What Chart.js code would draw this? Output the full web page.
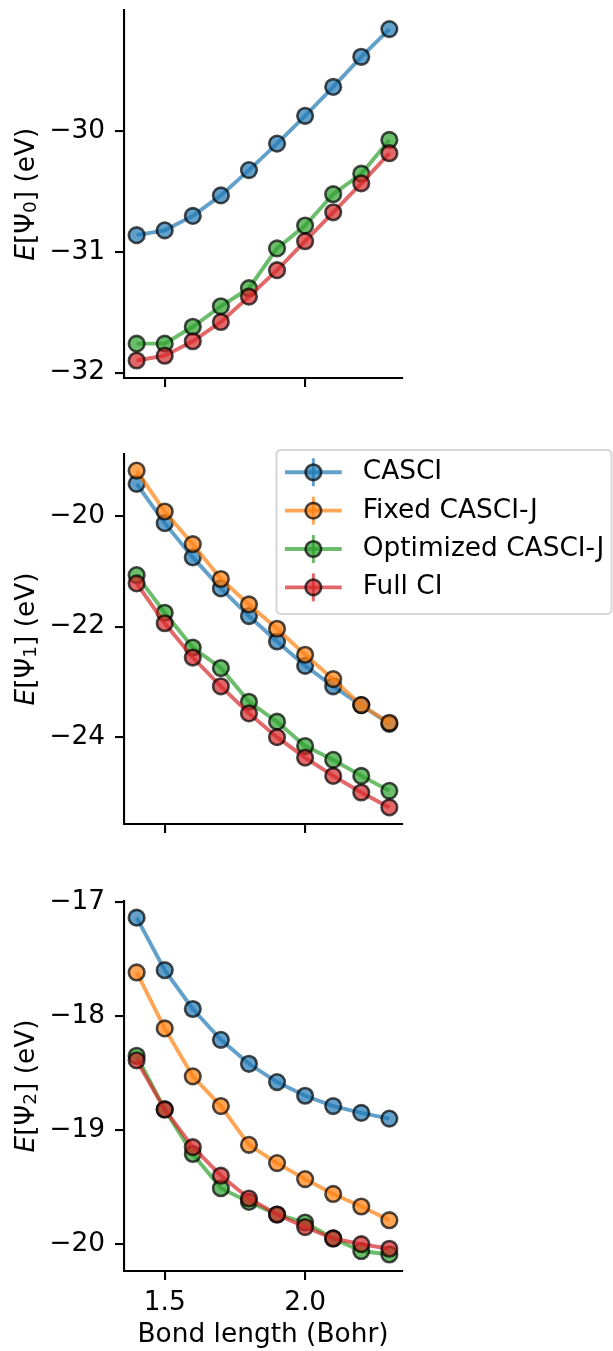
<!DOCTYPE html>
<html>
<head>
<meta charset="utf-8">
<script src="https://cdn.jsdelivr.net/npm/chart.js@4.4.1/dist/chart.umd.min.js"></script>
<style>
    body { margin: 0; background: #ffffff; width: 613px; height: 1351px; position: relative; overflow: hidden; }
    canvas { position: absolute; left: 0; }
</style>
</head>
<body>
<canvas id="psi0Chart" width="613" height="420" style="top:0px"></canvas>
<canvas id="psi1Chart" width="613" height="460" style="top:420px"></canvas>
<canvas id="psi2Chart" width="613" height="471" style="top:880px"></canvas>
<script>
/* ===================================
   DATA
   =================================== */

const bondLengths = [1.4, 1.5, 1.6, 1.7, 1.8, 1.9, 2.0, 2.1, 2.2, 2.3];
const seriesNames = ['CASCI', 'Fixed CASCI-J', 'Optimized CASCI-J', 'Full CI'];

// Ground state E[Psi_0] (no Fixed CASCI-J curve here)
const casci0     = [-30.86, -30.82, -30.70, -30.53, -30.32, -30.10, -29.87, -29.63, -29.38, -29.15];
const optimized0 = [-31.76, -31.76, -31.62, -31.45, -31.30, -30.97, -30.78, -30.52, -30.35, -30.07];
const fullCI0    = [-31.90, -31.86, -31.74, -31.58, -31.37, -31.15, -30.91, -30.67, -30.43, -30.18];

// First excited state E[Psi_1]
const casci1     = [-19.42, -20.13, -20.75, -21.31, -21.81, -22.27, -22.71, -23.08, -23.42, -23.76];
const fixed1     = [-19.18, -19.92, -20.51, -21.14, -21.60, -22.04, -22.51, -22.95, -23.42, -23.74];
const optimized1 = [-21.07, -21.75, -22.38, -22.75, -23.36, -23.72, -24.16, -24.41, -24.70, -24.97];
const fullCI1    = [-21.22, -21.94, -22.56, -23.08, -23.57, -24.00, -24.37, -24.70, -25.00, -25.27];

// Second excited state E[Psi_2]
const casci2     = [-17.14, -17.60, -17.94, -18.21, -18.42, -18.58, -18.70, -18.79, -18.85, -18.90];
const fixed2     = [-17.62, -18.11, -18.53, -18.79, -19.13, -19.29, -19.43, -19.56, -19.67, -19.79];
const optimized2 = [-18.35, -18.82, -19.21, -19.51, -19.63, -19.74, -19.81, -19.95, -20.06, -20.09];
const fullCI2    = [-18.39, -18.82, -19.15, -19.40, -19.60, -19.74, -19.85, -19.95, -20.00, -20.04];

// Tick labels
const xTicks  = [1.5, 2.0];
const yTicks0 = [-32, -31, -30];
const yTicks1 = [-24, -22, -20];
const yTicks2 = [-20, -19, -18, -17];

/* ===================================
   STYLE
   =================================== */

const FONT = 'DejaVu Sans';
const FONT_SIZE = 26.4;

// tab10 colours, drawn with alpha 0.7 like the original
const seriesRGB = {
    'CASCI': '31,119,180',
    'Fixed CASCI-J': '255,127,14',
    'Optimized CASCI-J': '44,160,44',
    'Full CI': '214,39,40'
};

function rgba(rgb, a) {
    return `rgba(${rgb},${a})`;
}

function makeDataset(name, values) {
    const rgb = seriesRGB[name];
    return {
        label: name,
        data: bondLengths.map((x, i) => ({ x: x, y: values[i] })),
        borderColor: rgba(rgb, 0.7),
        borderWidth: 3.9,
        backgroundColor: rgba(rgb, 0.7),
        pointRadius: 7.8,
        pointBorderWidth: 2.6,
        pointBackgroundColor: rgba(rgb, 0.7),
        pointBorderColor: 'rgba(0,0,0,0.7)',
        tension: 0,
        clip: false,
        // later series sit on top, as in matplotlib
        order: 10 - seriesNames.indexOf(name)
    };
}

function minusSign(v) {
    return String(v).replace('-', '\u2212');
}

/* ===================================
   Y LABEL  E[Psi_n] (eV)  with italic E and subscript
   =================================== */

const mathTitle = {
    id: 'mathTitle',
    afterDraw(chart, args, opts) {
        if (!opts.index && opts.index !== 0) return;
        const ctx = chart.ctx;
        const area = chart.chartArea;
        const normal = `${FONT_SIZE}px "${FONT}"`;
        const pieces = [
            { t: 'E', font: `italic ${FONT_SIZE}px "${FONT}"`, dy: 0 },
            { t: '[\u03A8', font: normal, dy: 0 },
            { t: String(opts.index), font: `${FONT_SIZE * 0.7}px "${FONT}"`, dy: 2 },
            { t: '] (eV)', font: normal, dy: 0 }
        ];
        ctx.save();
        let total = 0;
        pieces.forEach(p => { ctx.font = p.font; p.w = ctx.measureText(p.t).width; total += p.w; });
        ctx.translate(opts.baselineX, (area.top + area.bottom) / 2);
        ctx.rotate(-Math.PI / 2);
        ctx.fillStyle = '#000000';
        ctx.textBaseline = 'alphabetic';
        ctx.textAlign = 'left';
        let x = -total / 2;
        pieces.forEach(p => {
            ctx.font = p.font;
            ctx.fillText(p.t, x, p.dy);
            x += p.w;
        });
        ctx.restore();
    }
};

/* ===================================
   LEGEND (boxed, with errorbar handles)
   =================================== */

const boxLegend = {
    id: 'boxLegend',
    afterDraw(chart, args, opts) {
        if (!opts.show) return;
        const ctx = chart.ctx;
        const { x, y, w, h, r } = opts.box;
        ctx.save();

        ctx.beginPath();
        ctx.moveTo(x + r, y);
        ctx.arcTo(x + w, y, x + w, y + h, r);
        ctx.arcTo(x + w, y + h, x, y + h, r);
        ctx.arcTo(x, y + h, x, y, r);
        ctx.arcTo(x, y, x + w, y, r);
        ctx.closePath();
        ctx.fillStyle = 'rgba(255,255,255,0.8)';
        ctx.fill();
        ctx.lineWidth = 2;
        ctx.strokeStyle = 'rgba(204,204,204,0.8)';
        ctx.stroke();

        chart.data.datasets.forEach((ds, i) => {
            const rgb = seriesRGB[ds.label];
            const cy = opts.firstRow + i * opts.rowStep;
            const mx = (opts.handleX0 + opts.handleX1) / 2;

            ctx.strokeStyle = rgba(rgb, 0.7);
            ctx.lineWidth = 3.9;
            ctx.beginPath();
            ctx.moveTo(opts.handleX0, cy);
            ctx.lineTo(opts.handleX1, cy);
            ctx.stroke();

            ctx.lineWidth = 3;
            ctx.beginPath();
            ctx.moveTo(mx, cy - 14);
            ctx.lineTo(mx, cy + 14);
            ctx.stroke();

            ctx.beginPath();
            ctx.arc(mx, cy, 7.8, 0, Math.PI * 2);
            ctx.fillStyle = rgba(rgb, 0.7);
            ctx.fill();
            ctx.lineWidth = 2.6;
            ctx.strokeStyle = 'rgba(0,0,0,0.7)';
            ctx.stroke();

            ctx.fillStyle = '#000000';
            ctx.font = `${FONT_SIZE}px "${FONT}"`;
            ctx.textBaseline = 'middle';
            ctx.textAlign = 'left';
            ctx.fillText(ds.label, opts.textX, cy);
        });
        ctx.restore();
    }
};

/* ===================================
   PANEL BUILDER
   =================================== */

function buildPanel(canvasId, cfg) {
    const ctx = document.getElementById(canvasId);
    return new Chart(ctx, {
        type: 'line',
        data: { datasets: cfg.datasets },
        plugins: [boxLegend, mathTitle],
        options: {
            responsive: false,
            animation: false,
            devicePixelRatio: 1,
            events: [],
            layout: { padding: { left: 0, right: 211, top: cfg.padTop, bottom: 0 } },
            plugins: {
                legend: { display: false },
                tooltip: { enabled: false },
                boxLegend: cfg.legend || { show: false },
                mathTitle: { index: cfg.stateIndex, baselineX: 33.5 }
            },
            scales: {
                x: {
                    type: 'linear',
                    min: 1.355,
                    max: 2.345,
                    afterBuildTicks: (scale) => { scale.ticks = xTicks.map(v => ({ value: v })); },
                    afterFit: (scale) => {
                        scale.height = cfg.xHeight;
                        scale.paddingLeft = 0;
                        scale.paddingRight = 0;
                    },
                    grid: { drawOnChartArea: false, drawTicks: true, tickLength: 9, color: '#000000', lineWidth: 2.1 },
                    border: { display: true, color: '#000000', width: 2.1 },
                    ticks: {
                        display: cfg.showXLabels,
                        padding: 7,
                        color: '#000000',
                        font: { family: FONT, size: FONT_SIZE },
                        maxRotation: 0,
                        callback: (v) => Number(v).toFixed(1)
                    },
                    title: {
                        display: cfg.showXLabels,
                        text: 'Bond length (Bohr)',
                        color: '#000000',
                        font: { family: FONT, size: FONT_SIZE },
                        padding: { top: 0, bottom: 0 }
                    }
                },
                y: {
                    type: 'linear',
                    min: cfg.yMin,
                    max: cfg.yMax,
                    afterBuildTicks: (scale) => { scale.ticks = cfg.yTicks.map(v => ({ value: v })); },
                    afterFit: (scale) => {
                        scale.width = 124;
                        scale.paddingTop = 0;
                        scale.paddingBottom = 0;
                    },
                    grid: { drawOnChartArea: false, drawTicks: true, tickLength: 9, color: '#000000', lineWidth: 2.1 },
                    border: { display: true, color: '#000000', width: 2.1 },
                    ticks: {
                        padding: 10,
                        color: '#000000',
                        font: { family: FONT, size: FONT_SIZE },
                        callback: (v) => minusSign(v)
                    },
                    // drawn by the mathTitle plugin (italic E + subscript)
                    title: { display: false }
                }
            }
        }
    });
}

// Top panel: ground state
buildPanel('psi0Chart', {
    datasets: [
        makeDataset('CASCI', casci0),
        makeDataset('Optimized CASCI-J', optimized0),
        makeDataset('Full CI', fullCI0)
    ],
    padTop: 8, xHeight: 42, showXLabels: false,
    yMin: -32.045, yMax: -28.995, yTicks: yTicks0,
    stateIndex: 0
});

// Middle panel: first excited state, carries the legend
buildPanel('psi1Chart', {
    datasets: [
        makeDataset('CASCI', casci1),
        makeDataset('Fixed CASCI-J', fixed1),
        makeDataset('Optimized CASCI-J', optimized1),
        makeDataset('Full CI', fullCI1)
    ],
    padTop: 34, xHeight: 56, showXLabels: false,
    yMin: -25.57, yMax: -18.88, yTicks: yTicks1,
    stateIndex: 1,
    legend: {
        show: true,
        box: { x: 276.5, y: 30, w: 335, h: 164, r: 4 },
        firstRow: 52.3, rowStep: 38.35,
        handleX0: 285, handleX1: 341.7, textX: 362.7
    }
});

// Bottom panel: second excited state
buildPanel('psi2Chart', {
    datasets: [
        makeDataset('CASCI', casci2),
        makeDataset('Fixed CASCI-J', fixed2),
        makeDataset('Optimized CASCI-J', optimized2),
        makeDataset('Full CI', fullCI2)
    ],
    padTop: 21, xHeight: 80, showXLabels: true,
    yMin: -20.235, yMax: -16.994, yTicks: yTicks2,
    stateIndex: 2
});
</script>
</body>
</html>
